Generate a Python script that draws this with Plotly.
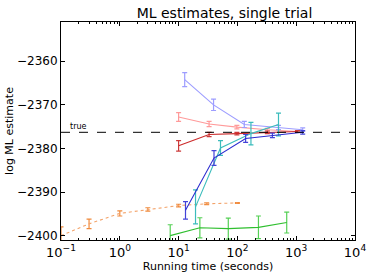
import plotly.graph_objects as go

title = "ML estimates, single trial"
x_title = "Running time (seconds)"
y_title = "log ML estimate"
true_value = -2376.3

# series: times, estimates, error half-widths
lb_x = [12.7, 39.3, 131, 500, 1290]
lb_y = [-2364.2, -2370.0, -2374.5, -2375.2, -2375.7]
lb_e = [1.6, 1.3, 0.7, 0.5, 0.4]

pk_x = [10, 33, 98, 323, 1050]
pk_y = [-2372.8, -2374.4, -2375.1, -2375.7, -2376.1]
pk_e = [1.0, 0.6, 0.4, 0.3, 0.2]

rd_x = [10, 33, 98, 323, 1050]
rd_y = [-2379.4, -2376.8, -2376.6, -2376.3, -2376.1]
rd_e = [1.2, 0.5, 0.3, 0.3, 0.2]

bl_x = [13.1, 40, 138, 394, 1290]
bl_y = [-2394.2, -2382.2, -2377.7, -2377.0, -2376.3]
bl_e = [2.0, 1.7, 0.9, 0.5, 0.4]

cy_x = [19.4, 51.6, 170, 500]
cy_y = [-2393.4, -2379.9, -2376.6, -2374.5]
cy_e = [3.9, 1.7, 2.6, 2.6]

gr_x = [7.2, 23, 70, 228, 690]
gr_y = [-2400.0, -2398.2, -2398.4, -2398.1, -2397.0]
gr_e = [2.5, 2.3, 2.4, 2.6, 2.4]

or_x = [0.1, 0.3, 1, 3, 10, 30, 100]
or_y = [-2400.0, -2397.3, -2394.9, -2394.0, -2393.1, -2392.7, -2392.5]
or_e = [2.0, 1.1, 0.6, 0.4, 0.3, 0.2, 0.1]

x_tickvals = [0.1, 1, 10, 100, 1000, 10000]
x_ticktext = ["10<sup>−1</sup>", "10<sup>0</sup>", "10<sup>1</sup>", "10<sup>2</sup>",
              "10<sup>3</sup>", "10<sup>4</sup>"]
y_tickvals = [-2400, -2390, -2380, -2370, -2360]
y_ticktext = ["−2400", "−2390", "−2380", "−2370", "−2360"]

series = [
    (or_x, or_y, or_e, "#f3a36a", "dot", "#f08a3c"),
    (gr_x, gr_y, gr_e, "#2fbf2f", "solid", "#55d055"),
    (pk_x, pk_y, pk_e, "#ff9a9a", "solid", "#ff9a9a"),
    (lb_x, lb_y, lb_e, "#9d9dff", "solid", "#9d9dff"),
    (rd_x, rd_y, rd_e, "#cc2a2a", "solid", "#cc3a3a"),
    (cy_x, cy_y, cy_e, "#3bbcbc", "solid", "#3bbcbc"),
    (bl_x, bl_y, bl_e, "#2c2cd0", "solid", "#4444d8"),
]

fig = go.Figure()
for xs, ys, es, col, dash, ecol in series:
    fig.add_trace(go.Scatter(
        x=xs, y=ys, mode="lines",
        line=dict(color=col, width=1.1, dash=dash),
        error_y=dict(type="data", array=es, visible=True, color=ecol,
                     thickness=1.2, width=2.5),
        showlegend=False,
    ))

fig.add_hline(y=true_value, line=dict(color="black", width=1, dash="dash"))
fig.add_annotation(x=-0.88, y=true_value, xref="x", yref="y", text="true",
                   showarrow=False, xanchor="left", yanchor="bottom", yshift=-1,
                   font=dict(size=8, color="black", family="DejaVu Sans"))

fig.update_layout(
    width=374, height=280,
    margin=dict(l=61, r=19, t=22, b=40),
    paper_bgcolor="white", plot_bgcolor="white",
    font=dict(family="DejaVu Sans", size=12, color="black"),
    title=dict(text=title, x=0.556, xanchor="center", xref="paper",
               y=0.955, yanchor="middle", automargin=False,
               font=dict(size=14, family="DejaVu Sans")),
    xaxis=dict(type="log", range=[-1, 4], tickvals=x_tickvals, ticktext=x_ticktext,
               ticks="inside", ticklen=4, tickcolor="black", showgrid=False,
               showline=True, linecolor="black", linewidth=1, mirror="ticks",
               zeroline=False, automargin=False,
               tickfont=dict(size=13),
               minor=dict(ticks="inside", ticklen=2, tickcolor="black", dtick="D1",
                          showgrid=False),
               title=dict(text=x_title, font=dict(size=11), standoff=0)),
    yaxis=dict(range=[-2401, -2351], tickvals=y_tickvals, ticktext=y_ticktext,
               ticks="inside", ticklen=4, tickcolor="black", showgrid=False,
               showline=True, linecolor="black", linewidth=1, mirror="ticks",
               zeroline=False, automargin=False,
               tickfont=dict(size=12),
               title=dict(text=y_title, font=dict(size=11), standoff=1)),
)

fig.write_html("out.html", config={"displayModeBar": False},
               post_script="document.body.style.margin='0';document.body.style.padding='0';")
